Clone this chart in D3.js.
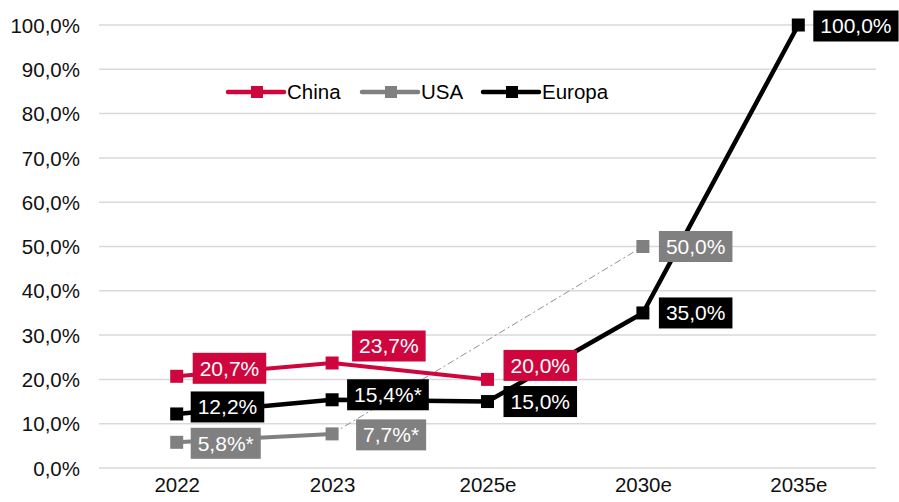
<!DOCTYPE html>
<html>
<head>
<meta charset="utf-8">
<script src="https://cdn.jsdelivr.net/npm/d3@7"></script>
<style>
  body { margin: 0; background: #fff; }
  svg text { font-family: "Liberation Sans", Arial, sans-serif; }
</style>
</head>
<body>
<svg></svg>
<script>
// data
var categories = ["2022", "2023", "2025e", "2030e", "2035e"];
var china  = [20.7, 23.7, 20.0, null, null];
var usa    = [5.8, 7.7, null, 50.0, null];
var europa = [12.2, 15.4, 15.0, 35.0, 100.0];
var yTicks = [0, 10, 20, 30, 40, 50, 60, 70, 80, 90, 100];
var labelSuffix = { china: ["", "", "", "", ""], usa: ["*", "*", "", "", ""], europa: ["", "*", "", "", ""] };

var svgWidth = 899, svgHeight = 502;
var margin = { top: 25, right: 23, bottom: 34, left: 99 };

var svg = d3.select("svg")
    .attr("width", svgWidth)
    .attr("height", svgHeight);

var xScale = d3.scalePoint()
    .domain(categories)
    .range([margin.left, svgWidth - margin.right])
    .padding(0.5);

var yScale = d3.scaleLinear()
    .domain([0, 100])
    .range([svgHeight - margin.bottom, margin.top]);

var fmt = function(v) { return v.toFixed(1).replace(".", ",") + "%"; };

// gridlines
svg.selectAll("line.grid")
    .data(yTicks)
    .enter()
    .append("line")
    .attr("class", "grid")
    .attr("x1", margin.left)
    .attr("x2", svgWidth - margin.right)
    .attr("y1", function(d) { return yScale(d); })
    .attr("y2", function(d) { return yScale(d); })
    .attr("stroke", "#d9d9d9")
    .attr("stroke-width", 1.5);

// y axis
var yAxis = d3.axisLeft(yScale).tickValues(yTicks).tickSize(0).tickPadding(0).tickFormat(fmt);
var gy = svg.append("g").attr("transform", "translate(80,0)").call(yAxis);
gy.select(".domain").remove();
gy.selectAll("text").attr("font-size", 20.5).attr("fill", "#111").attr("dy", "0.35em");

// x axis
var xAxis = d3.axisBottom(xScale).tickSize(0).tickPadding(0);
var gx = svg.append("g").attr("transform", "translate(0,477)").call(xAxis);
gx.select(".domain").remove();
gx.selectAll("text").attr("font-size", 20.5).attr("fill", "#111").attr("dy", "0.71em");

// dash-dot connector for USA 2023 -> 2030e
svg.append("line")
    .attr("x1", xScale("2023")).attr("y1", yScale(usa[1]))
    .attr("x2", xScale("2030e")).attr("y2", yScale(usa[3]))
    .attr("stroke", "#909090")
    .attr("stroke-width", 1)
    .attr("stroke-dasharray", "7,3,2,3");

var series = [
  { key: "usa", name: "USA", values: usa, color: "#808080", width: 4 },
  { key: "china", name: "China", values: china, color: "#cf063d", width: 4 },
  { key: "europa", name: "Europa", values: europa, color: "#000000", width: 4.5 }
];

var line = d3.line()
    .defined(function(d) { return d != null; })
    .x(function(d, i) { return xScale(categories[i]); })
    .y(function(d) { return yScale(d); });

series.forEach(function(s) {
  // only contiguous segments are drawn solid
  svg.append("path")
      .datum(s.values)
      .attr("d", line)
      .attr("fill", "none")
      .attr("stroke", s.color)
      .attr("stroke-width", s.width)
      .attr("stroke-linejoin", "round");

  svg.selectAll("rect.m-" + s.key)
      .data(s.values.map(function(v, i) { return { v: v, i: i }; }).filter(function(d) { return d.v != null; }))
      .enter()
      .append("rect")
      .attr("class", "m-" + s.key)
      .attr("x", function(d) { return xScale(categories[d.i]) - 6.5; })
      .attr("y", function(d) { return yScale(d.v) - 6.5; })
      .attr("width", 13)
      .attr("height", 13)
      .attr("fill", s.color);
});

// data labels (offsets relative to the point)
var labelOffsets = {
  china:  [[16, -8], [20, -17], [16, -14], null, null],
  usa:    [[14, 1], [24, 1], null, [16, 0], null],
  europa: [[14, -7], [15, -5], [16, 0], [16, 0], [15, 1]]
};

series.forEach(function(s) {
  s.values.forEach(function(v, i) {
    if (v == null) return;
    var off = labelOffsets[s.key][i];
    var cx = xScale(categories[i]) + off[0];
    var cy = yScale(v) + off[1];
    var g = svg.append("g");
    var t = g.append("text")
        .attr("x", cx + 7)
        .attr("y", cy)
        .attr("dy", "0.35em")
        .attr("font-size", 21)
        .attr("fill", "#ffffff")
        .text(fmt(v) + labelSuffix[s.key][i]);
    var bb = t.node().getBBox();
    g.insert("rect", "text")
        .attr("x", cx)
        .attr("y", cy - 15.5)
        .attr("width", bb.width + 14)
        .attr("height", 31)
        .attr("fill", s.color);
  });
});

// legend
var legendItems = [
  { name: "China", color: "#cf063d", x: 228 },
  { name: "USA", color: "#808080", x: 362 },
  { name: "Europa", color: "#000000", x: 483 }
];
var lg = svg.selectAll("g.legend")
    .data(legendItems)
    .enter()
    .append("g")
    .attr("class", "legend")
    .attr("transform", function(d) { return "translate(" + d.x + ",92)"; });
lg.append("line")
    .attr("x1", 0).attr("x2", 56).attr("y1", 0).attr("y2", 0)
    .attr("stroke", function(d) { return d.color; })
    .attr("stroke-width", 4.5)
    .attr("stroke-linecap", "round");
lg.append("rect")
    .attr("x", 23).attr("y", -6).attr("width", 12).attr("height", 12)
    .attr("fill", function(d) { return d.color; });
lg.append("text")
    .attr("x", 59)
    .attr("dy", "0.35em")
    .attr("font-size", 20.5)
    .attr("fill", "#000")
    .text(function(d) { return d.name; });
</script>
</body>
</html>
